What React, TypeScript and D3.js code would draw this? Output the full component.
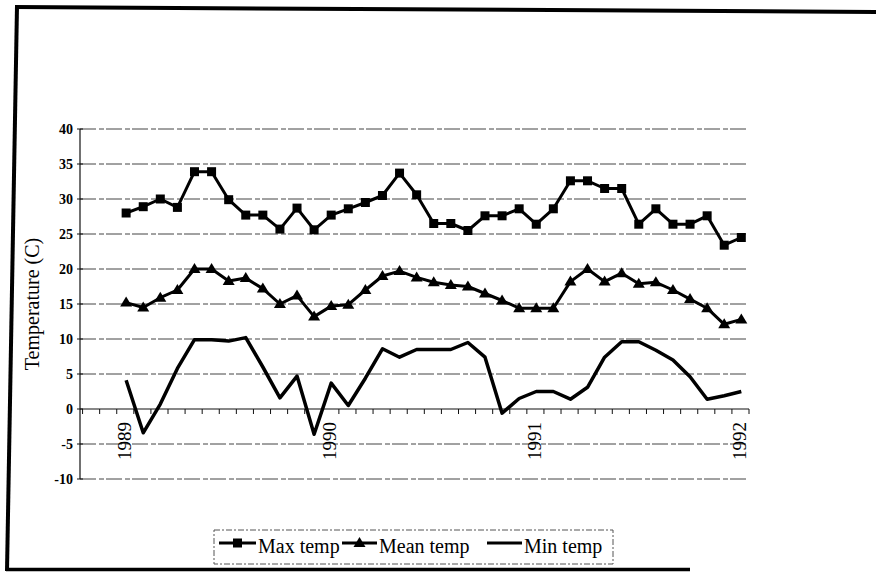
import React, { useEffect, useRef } from 'react';
import * as d3 from 'd3';

const yearLabels = ['1989', '1990', '1991', '1992'];
const yearIndex = [0, 12, 24, 36];
const maxTemp = [28.0, 28.9, 30.0, 28.8, 33.9, 33.9, 29.9, 27.7, 27.7, 25.7, 28.7, 25.6, 27.7, 28.6, 29.5, 30.5, 33.7, 30.6, 26.5, 26.5, 25.5, 27.6, 27.6, 28.6, 26.4, 28.6, 32.6, 32.6, 31.5, 31.5, 26.4, 28.6, 26.4, 26.4, 27.6, 23.4, 24.5];
const meanTemp = [15.2, 14.5, 15.9, 17.0, 20.0, 20.0, 18.3, 18.7, 17.2, 15.0, 16.2, 13.2, 14.7, 14.9, 17.0, 19.0, 19.7, 18.8, 18.1, 17.7, 17.5, 16.5, 15.5, 14.4, 14.4, 14.4, 18.2, 20.0, 18.2, 19.4, 17.9, 18.1, 17.0, 15.7, 14.4, 12.1, 12.8];
const minTemp = [4.1, -3.4, 0.7, 5.8, 9.9, 9.9, 9.7, 10.2, 6.0, 1.6, 4.7, -3.6, 3.7, 0.5, 4.4, 8.6, 7.4, 8.5, 8.5, 8.5, 9.5, 7.4, -0.6, 1.5, 2.5, 2.5, 1.4, 3.1, 7.4, 9.6, 9.6, 8.4, 7.0, 4.6, 1.4, 1.9, 2.5];
const yTicks = [40, 35, 30, 25, 20, 15, 10, 5, 0, -5, -10];
const seriesNames = ['Max temp', 'Mean temp', 'Min temp'];
const yTitle = 'Temperature (C)';

const FONT = "'Liberation Serif', 'Times New Roman', serif";

export default function App() {
  const ref = useRef<SVGSVGElement>(null);

  useEffect(() => {
    const svg = d3.select(ref.current);
    svg.selectAll('*').remove();

    const x = d3.scaleLinear().domain([-2.7, 36.45]).range([80, 749]);
    const y = d3.scaleLinear().domain([-10, 40]).range([479, 129]);

    // outer frame (scanned page border)
    const frame = svg.append('g').attr('stroke', '#000').attr('stroke-width', 4).attr('fill', 'none');
    frame.append('line').attr('x1', 15).attr('y1', 7).attr('x2', 876).attr('y2', 12);
    frame.append('line').attr('x1', 17).attr('y1', 6).attr('x2', 7).attr('y2', 571);
    frame.append('line').attr('x1', 6).attr('y1', 569.5).attr('x2', 690).attr('y2', 569.5).attr('stroke-width', 3.5);

    // gridlines
    svg.append('g')
      .selectAll('line')
      .data(yTicks.filter((t) => t !== 0))
      .join('line')
      .attr('x1', x(-2.7))
      .attr('x2', x(36.45))
      .attr('y1', (d) => y(d))
      .attr('y2', (d) => y(d))
      .attr('stroke', '#444')
      .attr('stroke-width', 1)
      .attr('stroke-dasharray', '16 3 5 2');

    // y axis
    svg.append('line')
      .attr('x1', x(-2.7)).attr('x2', x(-2.7))
      .attr('y1', y(40)).attr('y2', y(-10))
      .attr('stroke', '#111').attr('stroke-width', 1.2);
    svg.append('g')
      .selectAll('line')
      .data(yTicks)
      .join('line')
      .attr('x1', x(-2.7) - 3)
      .attr('x2', x(-2.7) + 3)
      .attr('y1', (d) => y(d))
      .attr('y2', (d) => y(d))
      .attr('stroke', '#111');
    svg.append('g')
      .selectAll('text')
      .data(yTicks)
      .join('text')
      .attr('x', 73)
      .attr('y', (d) => y(d))
      .attr('text-anchor', 'end')
      .attr('dominant-baseline', 'central')
      .attr('font-family', FONT)
      .attr('font-weight', 'bold')
      .attr('font-size', 14)
      .text((d) => String(d));

    // x axis at 0
    const y0 = y(0);
    svg.append('line')
      .attr('x1', x(-2.7)).attr('x2', x(36.45))
      .attr('y1', y0).attr('y2', y0)
      .attr('stroke', '#111').attr('stroke-width', 1.2);
    const tickPos = d3.range(-3, 37).map((n) => n + 0.45);
    svg.append('g')
      .selectAll('line')
      .data(tickPos)
      .join('line')
      .attr('x1', (d) => x(d))
      .attr('x2', (d) => x(d))
      .attr('y1', y0)
      .attr('y2', y0 + 5)
      .attr('stroke', '#111');

    // year labels
    svg.append('g')
      .selectAll('text')
      .data(yearLabels)
      .join('text')
      .attr('transform', (d, i) => `translate(${x(yearIndex[i]) - 2},${y0 + 13}) rotate(-90)`)
      .attr('text-anchor', 'end')
      .attr('dominant-baseline', 'central')
      .attr('font-family', FONT)
      .attr('font-size', 19)
      .text((d) => d);

    // y title
    svg.append('text')
      .attr('transform', `translate(32,${(y(40) + y(-10)) / 2}) rotate(-90)`)
      .attr('text-anchor', 'middle')
      .attr('dominant-baseline', 'central')
      .attr('font-family', FONT)
      .attr('font-size', 20)
      .text(yTitle);

    const line = d3.line<number>().x((d, i) => x(i)).y((d) => y(d));

    const series = [maxTemp, meanTemp, minTemp];
    series.forEach((s, k) => {
      svg.append('path')
        .datum(s)
        .attr('d', line)
        .attr('fill', 'none')
        .attr('stroke', '#000')
        .attr('stroke-width', k === 2 ? 3.5 : 3)
        .attr('stroke-linejoin', 'round');
    });

    const sq = 9;
    svg.append('g')
      .selectAll('rect')
      .data(maxTemp)
      .join('rect')
      .attr('x', (d, i) => x(i) - sq / 2)
      .attr('y', (d) => y(d) - sq / 2)
      .attr('width', sq)
      .attr('height', sq)
      .attr('fill', '#000');

    const tri = 'M0,-6L6,4L-6,4Z';
    svg.append('g')
      .selectAll('path')
      .data(meanTemp)
      .join('path')
      .attr('transform', (d, i) => `translate(${x(i)},${y(d)})`)
      .attr('d', tri)
      .attr('fill', '#000');

    // legend
    const lg = svg.append('g');
    lg.append('rect')
      .attr('x', 214).attr('y', 530).attr('width', 399).attr('height', 34)
      .attr('fill', 'none').attr('stroke', '#555').attr('stroke-width', 1)
      .attr('stroke-dasharray', '6 2 2 2');
    const items = [
      { x1: 219, x2: 256, text: 258 },
      { x1: 342, x2: 377, text: 379 },
      { x1: 487, x2: 522, text: 524 },
    ];
    const ly = 543;
    items.forEach((it, k) => {
      lg.append('line')
        .attr('x1', it.x1).attr('x2', it.x2).attr('y1', ly).attr('y2', ly)
        .attr('stroke', '#000').attr('stroke-width', 3);
      const cx = (it.x1 + it.x2) / 2;
      if (k === 0) {
        lg.append('rect').attr('x', cx - 4.5).attr('y', ly - 4.5).attr('width', 9).attr('height', 9).attr('fill', '#000');
      } else if (k === 1) {
        lg.append('path').attr('transform', `translate(${cx},${ly})`).attr('d', tri).attr('fill', '#000');
      }
      lg.append('text')
        .attr('x', it.text).attr('y', 553)
        .attr('font-family', FONT)
        .attr('font-size', 20)
        .text(seriesNames[k]);
    });
  }, []);

  return (
    <svg
      ref={ref}
      width={876}
      height={576}
      style={{ position: 'absolute', left: 0, top: 0, background: '#fff' }}
    />
  );
}
